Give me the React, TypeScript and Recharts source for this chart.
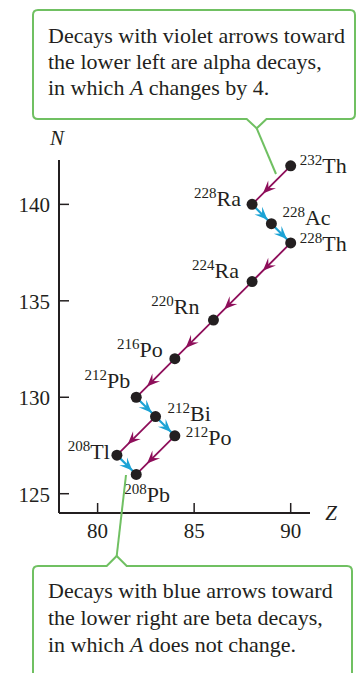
import { ScatterChart, Scatter, XAxis, YAxis, ReferenceLine } from 'recharts';

// Thorium decay series, plotted as neutron number N against proton number Z
const elements = ['Th', 'Ra', 'Ac', 'Th', 'Ra', 'Rn', 'Po', 'Pb', 'Bi', 'Po', 'Tl', 'Pb'];
const massNumbers = [232, 228, 228, 228, 224, 220, 216, 212, 212, 212, 208, 208];
const protonZ = [90, 88, 89, 90, 88, 86, 84, 82, 83, 84, 81, 82];
const neutronN = [142, 140, 139, 138, 136, 134, 132, 130, 129, 128, 127, 126];

// decays as [from index, to index]
const alphaDecays = [[0, 1], [3, 4], [4, 5], [5, 6], [6, 7], [8, 10], [9, 11]];
const betaDecays = [[1, 2], [2, 3], [7, 8], [8, 9], [10, 11]];

const zTicks = [80, 85, 90];
const nTicks = [125, 130, 135, 140];

const alphaNote = ['Decays with violet arrows toward', 'the lower left are alpha decays,'];
const betaNote = ['Decays with blue arrows toward', 'the lower right are beta decays,'];

// label placement around each dot, in the order of the arrays above
const labelPlace = [
  { dx: 9, dy: 7, anchor: 'start' },
  { dx: -11, dy: 2, anchor: 'end' },
  { dx: 11, dy: 1, anchor: 'start' },
  { dx: 9, dy: 8, anchor: 'start' },
  { dx: -13, dy: -4, anchor: 'end' },
  { dx: -14, dy: -6, anchor: 'end' },
  { dx: -12, dy: -2, anchor: 'end' },
  { dx: -6, dy: -9, anchor: 'end' },
  { dx: 12, dy: 4, anchor: 'start' },
  { dx: 11, dy: 9, anchor: 'start' },
  { dx: -7, dy: 4, anchor: 'end' },
  { dx: -12, dy: 28, anchor: 'start' },
];

const points = protonZ.map((z, i) => ({ z, n: neutronN[i], mass: massNumbers[i], el: elements[i], idx: i }));

const VIOLET = '#8e0e5a';
const BLUE = '#1ca3d5';
const GREEN = '#70c062';
const INK = '#231f20';
const SERIF = "'Liberation Serif', 'Times New Roman', 'DejaVu Serif', serif";

const arrowShape = (color: string, width: number, at: number, size: number) => (p: any) => {
  const { x1, y1, x2, y2 } = p;
  const len = Math.hypot(x2 - x1, y2 - y1) || 1;
  const ux = (x2 - x1) / len;
  const uy = (y2 - y1) / len;
  const tx = x1 + (x2 - x1) * at;
  const ty = y1 + (y2 - y1) * at;
  const w = size * 0.42;
  const head = [
    [tx, ty],
    [tx - size * ux - w * uy, ty - size * uy + w * ux],
    [tx - size * 0.6 * ux, ty - size * 0.6 * uy],
    [tx - size * ux + w * uy, ty - size * uy - w * ux],
  ];
  return (
    <g>
      <line x1={x1} y1={y1} x2={x2} y2={y2} stroke={color} strokeWidth={width} />
      <polygon points={head.map((q) => q.join(',')).join(' ')} fill={color} />
    </g>
  );
};

const Nuclide = (props: any) => {
  const { cx, cy, payload } = props;
  const place = labelPlace[payload.idx];
  return (
    <g>
      <circle cx={cx} cy={cy} r={5.5} fill={INK} />
      <text
        x={cx + place.dx}
        y={cy + place.dy}
        textAnchor={place.anchor}
        style={{ fontFamily: SERIF }}
        fontSize={22}
        fill={INK}
      >
        <tspan fontSize={15} dy={-8}>{payload.mass}</tspan>
        <tspan dy={8}>{payload.el}</tspan>
      </text>
    </g>
  );
};

const NTick = (props: any) => {
  const { x, y, payload } = props;
  return (
    <g>
      <line x1={x} y1={y} x2={x + 10} y2={y} stroke={INK} strokeWidth={1.5} />
      <text x={x - 9} y={y + 8} textAnchor="end" style={{ fontFamily: SERIF }} fontSize={21} fill={INK}>
        {payload.value}
      </text>
    </g>
  );
};

const ZTick = (props: any) => {
  const { x, y, payload } = props;
  return (
    <g>
      <line x1={x} y1={y} x2={x} y2={y - 10} stroke={INK} strokeWidth={1.5} />
      <text x={x} y={y + 25} textAnchor="middle" style={{ fontFamily: SERIF }} fontSize={21} fill={INK}>
        {payload.value}
      </text>
    </g>
  );
};

export default function App() {
  return (
    <div style={{ position: 'absolute', left: 0, top: 0, width: 356, height: 673, background: '#fff', overflow: 'hidden', fontFamily: SERIF }}>
      <ScatterChart width={356} height={673} margin={{ top: 160, right: 46, left: 19, bottom: 130 }}>
        <XAxis
          type="number"
          dataKey="z"
          domain={[78, 91]}
          ticks={zTicks}
          height={30}
          tickSize={0}
          tickMargin={0}
          tick={<ZTick />}
          tickLine={false}
          axisLine={{ stroke: INK, strokeWidth: 2 }}
        />
        <YAxis
          type="number"
          dataKey="n"
          domain={[124, 142.3]}
          ticks={nTicks}
          width={40}
          tickSize={0}
          tickMargin={0}
          tick={<NTick />}
          tickLine={false}
          axisLine={{ stroke: INK, strokeWidth: 2 }}
        />
        {alphaDecays.map(([a, b]) => (
          <ReferenceLine
            key={`a${a}-${b}`}
            segment={[{ x: protonZ[a], y: neutronN[a] }, { x: protonZ[b], y: neutronN[b] }]}
            shape={arrowShape(VIOLET, 1.8, 0.72, 13)}
          />
        ))}
        {betaDecays.map(([a, b]) => (
          <ReferenceLine
            key={`b${a}-${b}`}
            segment={[{ x: protonZ[a], y: neutronN[a] }, { x: protonZ[b], y: neutronN[b] }]}
            shape={arrowShape(BLUE, 2.2, 0.8, 13)}
          />
        ))}
        <Scatter data={points} shape={<Nuclide />} isAnimationActive={false} />
      </ScatterChart>

      <svg width={356} height={673} style={{ position: 'absolute', left: 0, top: 0, pointerEvents: 'none', fontFamily: SERIF }}>
        <text x={57} y={145} textAnchor="middle" fontStyle="italic" fontSize={21} fill={INK}>N</text>
        <text x={331} y={520} textAnchor="middle" fontStyle="italic" fontSize={21} fill={INK}>Z</text>

        <path
          d="M38,10 H350 Q355,10 355,15 V114 Q355,119 350,119 H266.5 L256.7,128.3 L246.7,119 H38 Q33,119 33,114 V15 Q33,10 38,10 Z"
          fill="#fff"
          stroke={GREEN}
          strokeWidth={2}
        />
        <line x1={256.7} y1={128.3} x2={276} y2={174} stroke={GREEN} strokeWidth={2} />
        <text fontSize={22} fill={INK} style={{ fontFamily: SERIF }}>
          <tspan x={48} y={43}>{alphaNote[0]}</tspan>
          <tspan x={48} y={69}>{alphaNote[1]}</tspan>
          <tspan x={48} y={95}>in which <tspan fontStyle="italic">A</tspan> changes by 4.</tspan>
        </text>

        <path
          d="M38,566 H106.7 L116.7,556 L126.7,566 H347 Q352,566 352,571 V690 H33 V571 Q33,566 38,566 Z"
          fill="#fff"
          stroke={GREEN}
          strokeWidth={2}
        />
        <line x1={116.7} y1={556} x2={126} y2={475} stroke={GREEN} strokeWidth={2} />
        <text fontSize={22} fill={INK} style={{ fontFamily: SERIF }}>
          <tspan x={48} y={598}>{betaNote[0]}</tspan>
          <tspan x={48} y={625}>{betaNote[1]}</tspan>
          <tspan x={48} y={652}>in which <tspan fontStyle="italic">A</tspan> does not change.</tspan>
        </text>
      </svg>
    </div>
  );
}
